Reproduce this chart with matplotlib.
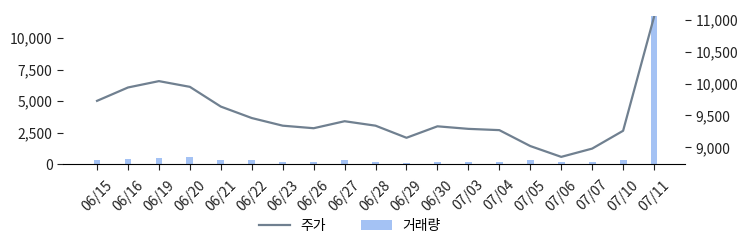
import numpy as np
import matplotlib
matplotlib.use('Agg')
import matplotlib.pyplot as plt

plt.rcParams['font.family'] = ['Noto Sans CJK KR', 'DejaVu Sans']

dates = ['06/15', '06/16', '06/19', '06/20', '06/21', '06/22', '06/23', '06/26',
         '06/27', '06/28', '06/29', '06/30', '07/03', '07/04', '07/05', '07/06',
         '07/07', '07/10', '07/11']
price = [9730, 9940, 10040, 9950, 9640, 9460, 9340, 9300, 9410, 9340,
         9150, 9330, 9290, 9270, 9020, 8850, 8980, 9260, 11050]
volume = [320, 400, 480, 560, 320, 320, 160, 160, 320, 160,
          80, 160, 160, 160, 320, 160, 160, 320, 11750]

line_color = '#708090'
bar_color = '#a4c2f4'

fig = plt.figure(figsize=(7.51, 2.47), dpi=100)
ax = fig.add_axes([63 / 751, 1 - 164 / 247, (685 - 63) / 751, (164 - 16) / 247])
ax2 = ax.twinx()

xs = np.arange(len(dates))
bars = ax.bar(xs, volume, width=0.22, color=bar_color, label='거래량')
ax.set_ylim(0, max(volume))
ax.set_xlim(-1.1, len(dates))
ax.set_yticks([0, 2500, 5000, 7500, 10000])
ax.set_yticklabels(['0', '2,500', '5,000', '7,500', '10,000'])
ax.set_xticks(xs)
ax.set_xticklabels(dates, rotation=45, ha='center')

line, = ax2.plot(xs, price, color=line_color, lw=1.6, label='주가')
ax2.set_ylim(8738, 11063)
ax2.set_yticks([9000, 9500, 10000, 10500, 11000])
ax2.set_yticklabels(['9,000', '9,500', '10,000', '10,500', '11,000'])

for a in (ax, ax2):
    for s in ('top', 'left', 'right'):
        a.spines[s].set_visible(False)
    a.tick_params(labelsize=10, colors='#222222', length=4)
ax.tick_params(axis='x', pad=6)
ax2.spines['bottom'].set_visible(False)
ax.spines['bottom'].set_color('black')

fig.legend([line, bars], ['주가', '거래량'], loc='center',
           bbox_to_anchor=(350 / 751, 1 - 226 / 247), ncol=2, frameon=False,
           fontsize=10, handlelength=2.2, columnspacing=2.5)

fig.savefig('out.png', dpi=100)
